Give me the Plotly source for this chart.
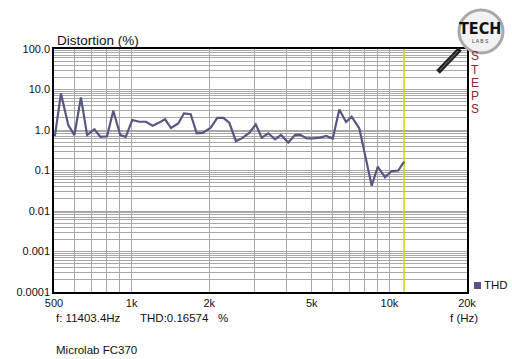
import plotly.graph_objects as go

freq_hz = [504, 532, 568, 600, 636, 672, 717, 756, 803, 849, 904, 949, 1006, 1071, 1137,
           1207, 1274, 1348, 1422, 1517, 1596, 1695, 1789, 1887, 2027, 2150, 2268, 2393,
           2540, 2673, 2861, 3030, 3197, 3390, 3600, 3797, 4053, 4303, 4499, 4775, 5067,
           5381, 5690, 6027, 6395, 6787, 7140, 7645, 8539, 9012, 9616, 10209, 10825, 11403.4]
thd_pct = [0.71, 8.0, 1.33, 0.75, 6.4, 0.75, 1.04, 0.68, 0.70, 3.0, 0.75, 0.68, 1.77, 1.6, 1.6,
           1.28, 1.5, 1.84, 1.12, 1.45, 2.58, 2.45, 0.83, 0.85, 1.14, 2.0, 2.0, 1.51,
           0.53, 0.62, 0.85, 1.38, 0.65, 0.83, 0.59, 0.75, 0.49, 0.75, 0.77, 0.62, 0.62,
           0.65, 0.71, 0.61, 3.2, 1.57, 2.14, 1.1, 0.042, 0.124, 0.068, 0.097, 0.10, 0.166]

cursor_f = 11403.4
cursor_thd = 0.16574

x_grid = [500, 600, 700, 800, 900, 1000, 2000, 3000, 4000, 5000, 6000, 7000, 8000, 9000, 10000, 20000]
x_labels = ["500", "", "", "", "", "1k", "2k", "", "", "5k", "", "", "", "", "10k", "20k"]

y_decades = [1e-4, 1e-3, 1e-2, 1e-1, 1, 10, 100]
y_decade_labels = ["0.0001", "0.001", "0.01", "0.1", "1.0", "10.0", "100.0"]

y_grid, y_labels = [], []
for d, lab in zip(y_decades, y_decade_labels):
    y_grid.append(d)
    y_labels.append(lab)
    if d < 100:
        for m in range(2, 10):
            y_grid.append(d * m)
            y_labels.append("")

line_color = "#575782"
font = "Liberation Sans, Arial, sans-serif"

fig = go.Figure()
fig.add_trace(go.Scatter(x=[cursor_f, cursor_f], y=[1e-4, 100], mode="lines",
                         line=dict(color="#d4d400", width=1.5), showlegend=False, hoverinfo="skip"))
fig.add_trace(go.Scatter(x=freq_hz, y=thd_pct, mode="lines", name="THD",
                         line=dict(color=line_color, width=2.2), showlegend=False))

W, H = 512, 359
L, R, T, B = 54, 467, 49, 292

def px(x):
    return (x - L) / (R - L)

def py(y):
    return (B - y) / (B - T)

annotations = [
    dict(text="Distortion (%)", x=px(55), y=py(40), xanchor="left", yanchor="middle", font=dict(size=13.5)),
    dict(text="f: 11403.4Hz", x=px(54), y=py(318), xanchor="left", yanchor="middle", font=dict(size=11.5)),
    dict(text=f"THD:{cursor_thd}&nbsp;&nbsp;&nbsp;%", x=px(138), y=py(318), xanchor="left", yanchor="middle", font=dict(size=11.5)),
    dict(text="f (Hz)", x=px(448), y=py(318), xanchor="left", yanchor="middle", font=dict(size=11.5)),
    dict(text="Microlab FC370", x=px(54), y=py(350), xanchor="left", yanchor="middle", font=dict(size=11.5)),
    dict(text="THD", x=px(482), y=py(285), xanchor="left", yanchor="middle", font=dict(size=11.5)),
]
for ch, yy in zip("STEPS", [57, 70, 83, 96, 109]):
    annotations.append(dict(text=ch, x=px(475), y=py(yy), xanchor="center", yanchor="middle",
                            height=12.5, font=dict(size=12, color="#8a2a2a")))
annotations.append(dict(text="<b>TECH</b>", x=px(480), y=py(28), xanchor="center", yanchor="middle",
                        font=dict(size=16, color="#111111", family="DejaVu Sans Condensed, Liberation Sans Narrow, sans-serif")))
annotations.append(dict(text="L A B S", x=px(480), y=py(41), xanchor="center", yanchor="middle",
                        font=dict(size=5, color="#444444")))
for a in annotations:
    a.update(xref="paper", yref="paper", showarrow=False)

shapes = [
    dict(type="line", xref="paper", yref="paper", x0=px(438), y0=py(72), x1=px(460), y1=py(49),
         line=dict(color="#222222", width=5)),
    dict(type="line", xref="paper", yref="paper", x0=px(440), y0=py(70), x1=px(458), y1=py(51),
         line=dict(color="#777777", width=1)),
    dict(type="circle", xref="paper", yref="paper", x0=px(459), y0=py(53), x1=px(503), y1=py(10),
         fillcolor="#f2f2f2", line=dict(color="#a8a8a8", width=3)),
    dict(type="rect", xref="paper", yref="paper", x0=px(474), y0=py(289), x1=px(481), y1=py(282),
         fillcolor=line_color, line=dict(width=0)),
]

fig.update_layout(
    width=W, height=H,
    margin=dict(l=L, r=W - R, t=T, b=H - B, pad=0),
    paper_bgcolor="white", plot_bgcolor="white",
    font=dict(family=font, size=11, color="#111111"),
    annotations=annotations, shapes=shapes,
    showlegend=False,
)
fig.update_xaxes(type="log", range=[2.69897, 4.30103], tickvals=x_grid, ticktext=x_labels,
                 showgrid=True, gridcolor="#a8a8a8", gridwidth=1,
                 showline=True, linecolor="black", linewidth=1.5, mirror=True,
                 ticks="", tickfont=dict(size=11), zeroline=False)
fig.update_yaxes(type="log", range=[-4, 2], tickvals=y_grid, ticktext=y_labels,
                 showgrid=True, gridcolor="#a8a8a8", gridwidth=1,
                 showline=True, linecolor="black", linewidth=1.5, mirror=True,
                 ticks="", tickfont=dict(size=11), zeroline=False)

fig.write_html("out.html", config={"displayModeBar": False},
               post_script="document.body.style.margin='0';document.body.style.overflow='hidden';")
